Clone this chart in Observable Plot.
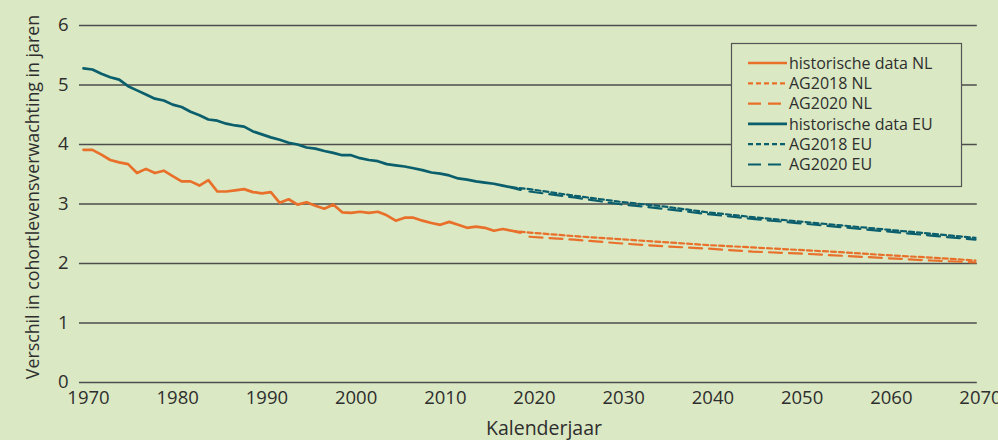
<!DOCTYPE html>
<html>
<head>
<meta charset="utf-8">
<script src="https://cdn.jsdelivr.net/npm/d3@7"></script>
<script src="https://cdn.jsdelivr.net/npm/@observablehq/plot@0.6"></script>
<style>
  html, body { margin: 0; padding: 0; background: #dae8c3; }
  #chart { width: 998px; height: 440px; }
</style>
</head>
<body>
<div id="chart"></div>
<script>
// ---- data ----
const histYears = d3.range(1970, 2020);
const nlHist = [
  3.91, 3.91, 3.83, 3.74, 3.70, 3.67, 3.52, 3.59, 3.52, 3.56,
  3.47, 3.38, 3.38, 3.31, 3.40, 3.21, 3.21, 3.23, 3.25, 3.20,
  3.18, 3.20, 3.02, 3.08, 2.99, 3.03, 2.97, 2.92, 2.99, 2.86,
  2.85, 2.87, 2.85, 2.87, 2.81, 2.72, 2.77, 2.77, 2.72, 2.68,
  2.65, 2.70, 2.65, 2.60, 2.62, 2.60, 2.55, 2.58, 2.55, 2.52
];
const euHist = [
  5.28, 5.26, 5.19, 5.13, 5.09, 4.98, 4.91, 4.84, 4.77, 4.74,
  4.67, 4.63, 4.55, 4.49, 4.42, 4.40, 4.35, 4.32, 4.30, 4.22,
  4.17, 4.12, 4.08, 4.03, 4.00, 3.95, 3.93, 3.89, 3.86, 3.82,
  3.82, 3.77, 3.74, 3.72, 3.67, 3.65, 3.63, 3.60, 3.57, 3.53,
  3.51, 3.48, 3.43, 3.41, 3.38, 3.36, 3.34, 3.31, 3.28, 3.24
];
const ag2018Years = [2018, 2020, 2025, 2030, 2035, 2040, 2045, 2050, 2055, 2060, 2065, 2070];
const ag2018NL = [2.55, 2.52, 2.46, 2.41, 2.36, 2.31, 2.27, 2.23, 2.19, 2.14, 2.10, 2.05];
const ag2018EU = [3.28, 3.25, 3.14, 3.04, 2.96, 2.86, 2.78, 2.71, 2.64, 2.57, 2.50, 2.43];
const ag2020Years = [2020, 2025, 2030, 2035, 2040, 2045, 2050, 2055, 2060, 2065, 2070];
const ag2020NL = [2.45, 2.40, 2.34, 2.29, 2.25, 2.20, 2.17, 2.13, 2.09, 2.05, 2.02];
const ag2020EU = [3.21, 3.11, 3.00, 2.92, 2.83, 2.75, 2.68, 2.61, 2.54, 2.47, 2.40];

const xTicks = [1970, 1980, 1990, 2000, 2010, 2020, 2030, 2040, 2050, 2060, 2070];
const yTicks = [0, 1, 2, 3, 4, 5, 6];

const seriesNames = ["historische data NL", "AG2018 NL", "AG2020 NL", "historische data EU", "AG2018 EU", "AG2020 EU"];

// ---- styling ----
const BG = "#dae8c3";
const ORANGE = "#e8702a";
const TEAL = "#0b5f6c";
const GRID = "#4d4d4d";
const TEXT = "#2e2e2e";
const FONT = "'Open Sans', 'Noto Sans', sans-serif";
const SHORT = "5,3";
const LONG = "13,7";

const toRows = (years, vals) => years.map((y, i) => ({year: y, value: vals[i]}));

const styles = [
  {name: seriesNames[0], data: toRows(histYears, nlHist), stroke: ORANGE, dash: null, w: 2.7},
  {name: seriesNames[1], data: toRows(ag2018Years, ag2018NL), stroke: ORANGE, dash: SHORT, w: 2.2},
  {name: seriesNames[2], data: toRows(ag2020Years, ag2020NL), stroke: ORANGE, dash: LONG, w: 2.2},
  {name: seriesNames[3], data: toRows(histYears, euHist), stroke: TEAL, dash: null, w: 2.7},
  {name: seriesNames[4], data: toRows(ag2018Years, ag2018EU), stroke: TEAL, dash: SHORT, w: 2.2},
  {name: seriesNames[5], data: toRows(ag2020Years, ag2020EU), stroke: TEAL, dash: LONG, w: 2.2}
];

const chart = Plot.plot({
  width: 998,
  height: 440,
  marginLeft: 83,
  marginRight: 23,
  marginTop: 25,
  marginBottom: 58,
  style: {background: BG, fontFamily: FONT, fontSize: "18px", color: TEXT},
  x: {domain: [1970, 2070]},
  y: {domain: [0, 6]},
  marks: [
    Plot.ruleY(yTicks, {y: d => d, x1: 1969.55, x2: 2070.2, stroke: GRID, strokeWidth: 1.3}),
    ...styles.map(s => Plot.line(s.data, {
      x: "year", y: "value", stroke: s.stroke, strokeWidth: s.w,
      strokeDasharray: s.dash || undefined, curve: "linear"
    })),
    Plot.axisX(xTicks, {tickSize: 0, tickPadding: 8, dx: 5, tickFormat: d => String(d), label: null, fontSize: 18.5, fill: TEXT}),
    Plot.axisY(yTicks, {tickSize: 0, tickPadding: 15, tickFormat: d => String(d), label: null, fontSize: 18.5, fill: TEXT})
  ]
});

document.getElementById("chart").appendChild(chart);

const svg = d3.select(chart);

// axis titles
svg.append("text")
  .attr("transform", "translate(39,197) rotate(-90)")
  .attr("text-anchor", "middle")
  .attr("fill", TEXT)
  .style("font-family", FONT)
  .style("font-size", "17.8px")
  .text("Verschil in cohortlevensverwachting in jaren");

svg.append("text")
  .attr("x", 544).attr("y", 435)
  .attr("text-anchor", "middle")
  .attr("fill", TEXT)
  .style("font-family", FONT)
  .style("font-size", "19.5px")
  .text("Kalenderjaar");

// legend
const lg = svg.append("g");
lg.append("rect")
  .attr("x", 731.5).attr("y", 43.5).attr("width", 230).attr("height", 143)
  .attr("fill", BG).attr("stroke", "#555").attr("stroke-width", 1.2);
styles.forEach((s, i) => {
  const yy = 63 + i * 20.3;
  lg.append("line")
    .attr("x1", 748).attr("x2", 787).attr("y1", yy).attr("y2", yy)
    .attr("stroke", s.stroke).attr("stroke-width", s.w)
    .attr("stroke-dasharray", s.dash);
  lg.append("text")
    .attr("x", 789).attr("y", yy + 5.8)
    .attr("text-anchor", "start")
    .attr("fill", TEXT)
    .style("font-family", FONT)
    .style("font-size", "16px")
    .text(s.name);
});
</script>
</body>
</html>
